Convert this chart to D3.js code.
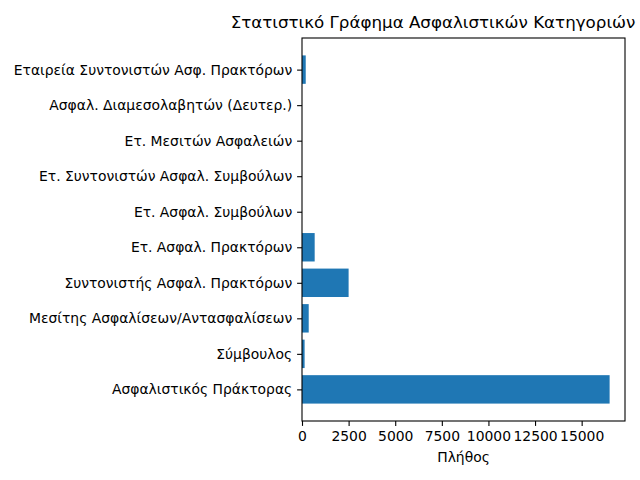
<!DOCTYPE html>
<head>
  <meta charset="utf-8">
  <script src="https://d3js.org/d3.v7.min.js"></script>
  <style>
    body { margin:0; background:#fff; }
    text { font-family: "DejaVu Sans", sans-serif; }
  </style>
</head>
<body>
  <script>
    // categories from bottom to top, as matplotlib draws barh
    var categories = [
      "Ασφαλιστικός Πράκτορας",
      "Σύμβουλος",
      "Μεσίτης Ασφαλίσεων/Αντασφαλίσεων",
      "Συντονιστής Ασφαλ. Πρακτόρων",
      "Ετ. Ασφαλ. Πρακτόρων",
      "Ετ. Ασφαλ. Συμβούλων",
      "Ετ. Συντονιστών Ασφαλ. Συμβούλων",
      "Ετ. Μεσιτών Ασφαλειών",
      "Ασφαλ. Διαμεσολαβητών (Δευτερ.)",
      "Εταιρεία Συντονιστών Ασφ. Πρακτόρων"
    ];
    var counts = [16500, 140, 360, 2500, 680, 0, 0, 0, 0, 200];
    var xTicks = [0, 2500, 5000, 7500, 10000, 12500, 15000];

    var width = 640, height = 480;
    var plot = {left: 302, right: 625, top: 38, bottom: 421};

    var svg = d3.select("body").append("svg")
      .attr("width", width)
      .attr("height", height);

    var xMax = d3.max(counts) * 1.05;
    var x = d3.scaleLinear().domain([0, xMax]).range([plot.left, plot.right]);
    // matplotlib margins: bars span -0.4..9.4, plus 5% each side
    var y = d3.scaleLinear().domain([-0.89, categories.length - 1 + 0.89]).range([plot.bottom, plot.top]);
    var barH = y(0) - y(0.8);

    svg.append("g").selectAll("rect").data(counts).enter().append("rect")
      .attr("x", x(0))
      .attr("y", function(d, i) { return y(i + 0.4); })
      .attr("width", function(d) { return x(d) - x(0); })
      .attr("height", barH)
      .attr("fill", "#1f77b4");

    var xAxis = d3.axisBottom(x).tickValues(xTicks).tickSize(4.9).tickPadding(4.9)
      .tickFormat(d3.format("d"));
    var gx = svg.append("g")
      .attr("transform", "translate(0," + plot.bottom + ")")
      .call(xAxis);
    gx.select(".domain").remove();
    gx.selectAll("line").attr("stroke", "#000").attr("stroke-width", 1.1);
    gx.selectAll("text").attr("font-size", "13.9px").attr("fill", "#000")
      .attr("font-family", "DejaVu Sans");

    var yAxis = d3.axisLeft(y).tickValues(d3.range(categories.length)).tickSize(4.9).tickPadding(4.9)
      .tickFormat(function(i) { return categories[i]; });
    var gy = svg.append("g")
      .attr("transform", "translate(" + plot.left + ",0)")
      .call(yAxis);
    gy.select(".domain").remove();
    gy.selectAll("line").attr("stroke", "#000").attr("stroke-width", 1.1);
    gy.selectAll("text").attr("font-size", "13.9px").attr("fill", "#000")
      .attr("font-family", "DejaVu Sans");

    // frame
    svg.append("rect")
      .attr("x", plot.left).attr("y", plot.top)
      .attr("width", plot.right - plot.left).attr("height", plot.bottom - plot.top)
      .attr("fill", "none").attr("stroke", "#000").attr("stroke-width", 1.1);

    svg.append("text")
      .attr("x", (plot.left + plot.right) / 2)
      .attr("y", 462)
      .attr("text-anchor", "middle")
      .attr("font-size", "13.9px")
      .text("Πλήθος");

    svg.append("text")
      .attr("x", 433)
      .attr("y", 28)
      .attr("text-anchor", "middle")
      .attr("font-size", "16.7px")
      .text("Στατιστικό Γράφημα Ασφαλιστικών Κατηγοριών");
  </script>
</body>
